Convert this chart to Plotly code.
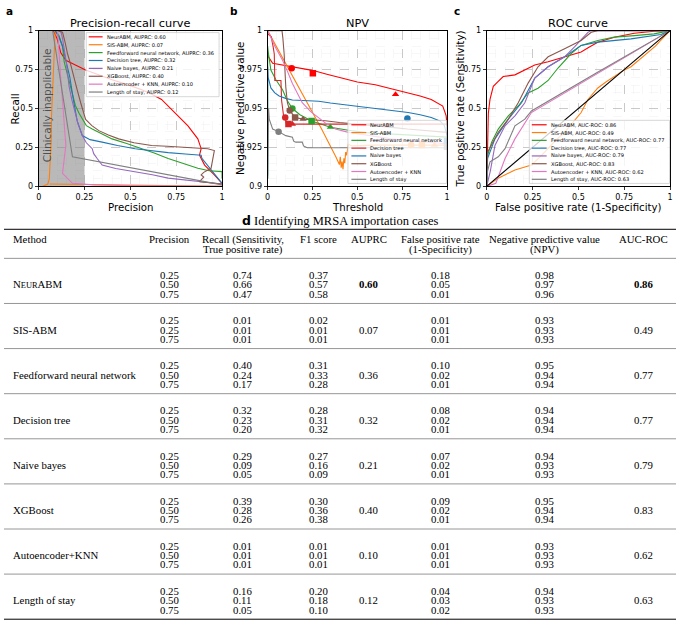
import plotly.graph_objects as go

W, H = 680, 639

# ---------------- data ----------------
models = ["NeurABM", "SIS-ABM", "Feedforward neural network", "Decision tree",
          "Naive bayes", "XGBoost", "Autoencoder + KNN", "Length of stay"]
auprc_vals = [0.60, 0.07, 0.36, 0.32, 0.21, 0.40, 0.10, 0.12]
aucroc_vals = [0.86, 0.49, 0.77, 0.77, 0.79, 0.83, 0.62, 0.63]

colors_ac = ["#ff0000", "#ff7f0e", "#2ca02c", "#1f77b4", "#9467bd", "#8c564b", "#e377c2", "#7f7f7f"]
colors_b = ["#ff0000", "#ff7f0e", "#2ca02c", "#d62728", "#1f77b4", "#8c564b", "#e377c2", "#7f7f7f"]

# Panel a: precision (x) / recall (y)
pr_prec_neurabm = [0.08, 0.10, 0.12, 0.148, 0.2, 0.256, 0.33, 0.40, 0.48, 0.562, 0.62, 0.67, 0.742, 0.78, 0.814, 0.868, 0.886, 0.877, 0.905, 0.958, 1.0]
pr_rec_neurabm = [1.0, 0.95, 0.86, 0.81, 0.78, 0.747, 0.715, 0.684, 0.655, 0.62, 0.59, 0.558, 0.474, 0.43, 0.389, 0.305, 0.242, 0.2, 0.137, 0.074, 0.02]
pr_prec_sis = [0.02, 0.05, 0.058, 0.063, 0.068, 0.07, 0.075, 0.08, 0.085, 0.09, None, 0.06, 0.3, 0.6, 0.85, 1.0]
pr_rec_sis = [0.0, 0.015, 0.05, 0.15, 0.3, 0.45, 0.6, 0.75, 0.88, 1.0, None, 0.015, 0.01, 0.006, 0.003, 0.0]
pr_prec_fnn = [0.09, 0.11, 0.13, 0.139, 0.15, 0.165, 0.184, 0.2, 0.22, 0.238, 0.26, 0.292, 0.34, 0.4, 0.48, 0.562, 0.63, 0.706, 0.78, 0.868, 0.93, 1.0, 1.0]
pr_rec_fnn = [1.0, 0.97, 0.9, 0.8, 0.75, 0.68, 0.579, 0.52, 0.47, 0.43, 0.39, 0.368, 0.34, 0.305, 0.275, 0.242, 0.215, 0.179, 0.15, 0.116, 0.1, 0.095, 0.05]
pr_prec_dt = [0.09, 0.11, 0.13, 0.15, 0.17, 0.19, 0.21, 0.238, 0.28, 0.346, 0.43, 0.526, 0.62, 0.706, 0.8, 0.886, 0.89, 1.0]
pr_rec_dt = [1.0, 0.96, 0.9, 0.8, 0.7, 0.55, 0.42, 0.326, 0.3, 0.284, 0.262, 0.242, 0.228, 0.217, 0.208, 0.2, 0.18, 0.02]
pr_prec_nb = [0.12, 0.13, 0.15, 0.166, 0.18, 0.193, 0.215, 0.238, 0.26, 0.292, 0.3, 0.319, 0.346, 0.42, 0.526, 0.62, 0.706, 0.85, 1.0]
pr_rec_nb = [1.0, 0.95, 0.8, 0.64, 0.56, 0.495, 0.4, 0.326, 0.28, 0.242, 0.21, 0.179, 0.137, 0.115, 0.095, 0.075, 0.053, 0.035, 0.015]
pr_prec_xgb = [0.10, 0.13, 0.145, 0.157, 0.175, 0.193, 0.21, 0.229, 0.256, 0.29, 0.328, 0.38, 0.436, 0.52, 0.616, 0.7, 0.796, 0.87, 0.922, 0.958, 0.95, 0.94, 0.9, 0.886, 0.9, 0.877, 1.0]
pr_rec_xgb = [1.0, 0.99, 0.92, 0.853, 0.78, 0.705, 0.62, 0.537, 0.43, 0.39, 0.358, 0.33, 0.305, 0.28, 0.263, 0.258, 0.253, 0.248, 0.242, 0.23, 0.17, 0.116, 0.09, 0.074, 0.06, 0.03, 0.015]
pr_prec_ae = [0.103, 0.11, 0.12, 0.13, 0.14, 0.148, 0.13, 0.16, 0.184, 0.3, 0.526, 1.0]
pr_rec_ae = [1.0, 0.9, 0.7, 0.55, 0.4, 0.263, 0.084, 0.05, 0.02, 0.01, 0.004, 0.0]
pr_prec_los = [0.076, 0.13, 0.184, 1.0]
pr_rec_los = [1.0, 0.6, 0.19, 0.01]

# Panel b: threshold (x) / NPV (y)
npv_thr_neurabm = [0.0, 0.005, 0.028, 0.08, 0.138, 0.2, 0.249, 0.33, 0.414, 0.5, 0.6, 0.7, 0.783, 0.85, 0.912, 0.95, 0.976, 0.99, 0.995, 1.0]
npv_val_neurabm = [0.986, 0.983, 0.979, 0.978, 0.977, 0.9755, 0.9745, 0.972, 0.9695, 0.967, 0.9653, 0.9625, 0.96, 0.958, 0.9558, 0.9535, 0.9516, 0.947, 0.9453, 0.939]
npv_thr_sis = [0.0, 0.1, 0.2, 0.3, 0.38, 0.40, 0.405, 0.41, 0.415, 0.42, 0.425, 0.43, 0.435, 0.44, 0.45, 0.47, 0.6, 0.8, 1.0]
npv_val_sis = [1.0, 0.979, 0.958, 0.937, 0.919, 0.914, 0.919, 0.912, 0.916, 0.911, 0.918, 0.915, 0.922, 0.92, 0.927, 0.926, 0.9265, 0.9265, 0.9265]
npv_thr_fnn = [0.0, 0.0, 0.005, 0.018, 0.046, 0.083, 0.11, 0.138, 0.18, 0.245, 0.35, 0.45, 0.55, 0.69, 0.78, 0.875, 0.95, 1.0]
npv_val_fnn = [0.905, 0.99, 0.985, 0.9747, 0.9684, 0.9621, 0.955, 0.950, 0.946, 0.942, 0.938, 0.936, 0.9345, 0.9335, 0.933, 0.9326, 0.932, 0.9316]
npv_thr_dt = [0.0, 0.02, 0.03, 0.037, 0.04, 0.074, 0.078, 0.09, 0.098, 0.105, 1.0]
npv_val_dt = [0.998, 0.996, 0.99, 0.985, 0.968, 0.968, 0.955, 0.9442, 0.9442, 0.940, 0.940]
npv_thr_nb = [0.0, 0.0, 0.003, 0.018, 0.04, 0.064, 0.1, 0.138, 0.2, 0.285, 0.35, 0.414, 0.5, 0.6, 0.7, 0.783, 0.85, 0.912, 0.96, 0.985, 1.0]
npv_val_nb = [0.907, 0.977, 0.97, 0.9632, 0.96, 0.958, 0.9565, 0.9555, 0.9553, 0.9547, 0.9535, 0.9526, 0.9513, 0.950, 0.9487, 0.9474, 0.946, 0.9442, 0.942, 0.939, 0.9326]
npv_thr_xgb = [0.0, 0.08, 0.085, 0.092, 0.101, 0.11, 0.123, 0.153, 0.197, 0.25, 0.322, 0.4, 0.506, 0.6, 0.69, 0.78, 0.875, 1.0]
npv_val_xgb = [1.0, 1.0, 0.995, 0.985, 0.964, 0.9537, 0.9488, 0.9442, 0.9432, 0.9428, 0.9421, 0.941, 0.940, 0.939, 0.9379, 0.9368, 0.9358, 0.9347]
npv_thr_ae = [0.0, 0.009, 0.04, 0.083, 0.11, 0.138, 0.165, 0.193, 0.24, 0.285, 0.33, 0.378, 0.44, 0.506, 0.6, 0.69, 0.78, 0.875, 1.0]
npv_val_ae = [1.0, 0.998, 0.99, 0.981, 0.974, 0.966, 0.96, 0.9537, 0.948, 0.944, 0.94, 0.9368, 0.935, 0.9337, 0.932, 0.9305, 0.9295, 0.9284, 0.9274]
npv_thr_los = [0.0, 0.005, 0.009, 0.028, 0.064, 0.101, 0.138, 0.145, 0.157, 0.193, 0.2, 0.221, 1.0]
npv_val_los = [0.905, 0.95, 0.9432, 0.9368, 0.935, 0.9326, 0.9316, 0.929, 0.9284, 0.9284, 0.926, 0.9248, 0.9248]

# operating-point markers on panel b (circle / square / triangle)
mk_thr_neurabm = [0.134, 0.252, 0.713]
mk_val_neurabm = [0.9758, 0.9726, 0.959]
mk_thr_sis = [0.80, 0.86, 0.93]
mk_val_sis = [0.9265, 0.9265, 0.9265]
mk_thr_fnn = [0.138, 0.245, 0.35]
mk_val_fnn = [0.950, 0.942, 0.938]
mk_thr_dt = [0.098, 0.116, 0.138]
mk_val_dt = [0.9442, 0.940, 0.940]
mk_thr_nb = [0.779, 1.0, 1.0]
mk_val_nb = [0.9436, 0.929, 0.929]
mk_thr_xgb = [0.123, 0.153, 0.197]
mk_val_xgb = [0.9488, 0.9442, 0.9432]
mk_thr_los = [0.061, 1.0, 1.0]
mk_val_los = [0.935, 0.9255, 0.9255]

# Panel c: ROC
roc_fpr_neurabm = [0.0, 0.003, 0.009, 0.018, 0.036, 0.063, 0.09, 0.154, 0.208, 0.262, 0.335, 0.425, 0.515, 0.56, 0.606, 0.696, 0.805, 0.913, 1.0]
roc_tpr_neurabm = [0.0, 0.25, 0.47, 0.558, 0.642, 0.674, 0.705, 0.716, 0.747, 0.779, 0.8, 0.832, 0.863, 0.895, 0.926, 0.958, 0.983, 0.996, 1.0]
roc_fpr_sis = [0.0, 0.063, 0.154, 0.244, 0.3, 0.335, 0.38, 0.425, 0.47, 0.515, 0.552, 0.58, 0.606, 0.65, 0.696, 0.74, 0.787, 0.83, 0.877, 0.92, 0.949, 1.0]
roc_tpr_sis = [0.0, 0.053, 0.105, 0.137, 0.2, 0.242, 0.3, 0.347, 0.41, 0.474, 0.558, 0.6, 0.632, 0.67, 0.705, 0.74, 0.768, 0.81, 0.853, 0.9, 0.937, 1.0]
roc_fpr_fnn = [0.0, 0.005, 0.027, 0.063, 0.118, 0.172, 0.226, 0.28, 0.335, 0.389, 0.461, 0.515, 0.606, 0.696, 0.805, 0.913, 1.0]
roc_tpr_fnn = [0.0, 0.2, 0.284, 0.368, 0.453, 0.516, 0.6, 0.63, 0.68, 0.76, 0.853, 0.905, 0.937, 0.958, 0.968, 0.979, 1.0]
roc_fpr_dt = [0.0, 0.005, 0.045, 0.118, 0.19, 0.262, 0.335, 0.425, 0.515, 0.606, 0.787, 0.95, 1.0]
roc_tpr_dt = [0.0, 0.18, 0.305, 0.432, 0.537, 0.695, 0.768, 0.832, 0.905, 0.926, 0.947, 0.975, 1.0]
roc_fpr_nb = [0.0, 0.02, 0.045, 0.1, 0.154, 0.208, 0.262, 0.335, 0.425, 0.479, 0.552, 0.57, 1.0]
roc_tpr_nb = [0.0, 0.1, 0.263, 0.389, 0.453, 0.537, 0.695, 0.768, 0.832, 0.895, 0.989, 1.0, 1.0]
roc_fpr_xgb = [0.0, 0.005, 0.063, 0.118, 0.172, 0.226, 0.28, 0.335, 0.425, 0.515, 0.57, 0.606, 1.0]
roc_tpr_xgb = [0.0, 0.22, 0.347, 0.432, 0.537, 0.663, 0.768, 0.832, 0.884, 0.937, 0.989, 1.0, 1.0]
roc_fpr_ae = [0.0, 0.05, 0.1, 0.154, 0.244, 0.515, 0.75, 1.0]
roc_tpr_ae = [0.0, 0.02, 0.179, 0.305, 0.474, 0.663, 0.826, 1.0]
roc_fpr_los = [0.0, 0.005, 0.018, 0.045, 0.063, 0.1, 0.154, 0.208, 0.244, 0.6, 1.0]
roc_tpr_los = [0.0, 0.1, 0.158, 0.179, 0.19, 0.242, 0.389, 0.432, 0.484, 0.73, 1.0]
chance_x = [0.0, 1.0]
chance_y = [0.0, 1.0]

# Table d
table_methods = ["NeurABM", "SIS-ABM", "Feedforward neural network", "Decision tree",
                 "Naive bayes", "XGBoost", "Autoencoder+KNN", "Length of stay"]
tbl_precision = [[0.25, 0.50, 0.75], [0.25, 0.25, 0.75], [0.25, 0.50, 0.75], [0.25, 0.50, 0.75],
                 [0.25, 0.50, 0.75], [0.25, 0.50, 0.75], [0.25, 0.50, 0.75], [0.25, 0.50, 0.75]]
tbl_recall = [[0.74, 0.66, 0.47], [0.01, 0.01, 0.01], [0.40, 0.24, 0.17], [0.32, 0.23, 0.20],
              [0.29, 0.09, 0.05], [0.39, 0.28, 0.26], [0.01, 0.01, 0.01], [0.16, 0.11, 0.05]]
tbl_f1 = [[0.37, 0.57, 0.58], [0.02, 0.01, 0.01], [0.31, 0.33, 0.28], [0.28, 0.31, 0.32],
          [0.27, 0.16, 0.09], [0.30, 0.36, 0.38], [0.01, 0.01, 0.01], [0.20, 0.18, 0.10]]
tbl_fpr = [[0.18, 0.05, 0.01], [0.01, 0.01, 0.01], [0.10, 0.02, 0.01], [0.08, 0.02, 0.01],
           [0.07, 0.02, 0.01], [0.09, 0.02, 0.01], [0.01, 0.01, 0.01], [0.04, 0.03, 0.02]]
tbl_npv = [[0.98, 0.97, 0.96], [0.93, 0.93, 0.93], [0.95, 0.94, 0.94], [0.94, 0.94, 0.94],
           [0.94, 0.93, 0.93], [0.95, 0.94, 0.94], [0.93, 0.93, 0.93], [0.94, 0.93, 0.93]]
tbl_auprc = [0.60, 0.07, 0.36, 0.32, 0.21, 0.40, 0.10, 0.12]
tbl_aucroc = [0.86, 0.49, 0.77, 0.77, 0.79, 0.83, 0.62, 0.63]
header_line1 = ["Precision", "Recall (Sensitivity,", "F1 score", "AUPRC", "False positive rate",
                "Negative predictive value", "AUC-ROC"]
header_line2 = ["", "True positive rate)", "", "", "(1-Specificity)", "(NPV)", ""]

# ---------------- helpers ----------------
def px(x):
    return x / W

def py(y):
    return 1 - y / H

SANS = "DejaVu Sans"
SERIF = "Liberation Serif"

fig = go.Figure()

pr_x = [pr_prec_neurabm, pr_prec_sis, pr_prec_fnn, pr_prec_dt, pr_prec_nb, pr_prec_xgb, pr_prec_ae, pr_prec_los]
pr_y = [pr_rec_neurabm, pr_rec_sis, pr_rec_fnn, pr_rec_dt, pr_rec_nb, pr_rec_xgb, pr_rec_ae, pr_rec_los]
for i in range(8):
    fig.add_trace(go.Scatter(x=pr_x[i], y=pr_y[i], mode="lines", line=dict(color=colors_ac[i], width=1.1),
                             xaxis="x", yaxis="y", name=models[i], connectgaps=False))

npv_x = [npv_thr_neurabm, npv_thr_sis, npv_thr_fnn, npv_thr_dt, npv_thr_nb, npv_thr_xgb, npv_thr_ae, npv_thr_los]
npv_y = [npv_val_neurabm, npv_val_sis, npv_val_fnn, npv_val_dt, npv_val_nb, npv_val_xgb, npv_val_ae, npv_val_los]
for i in range(8):
    fig.add_trace(go.Scatter(x=npv_x[i], y=npv_y[i], mode="lines", line=dict(color=colors_b[i], width=1.1),
                             xaxis="x2", yaxis="y2", name=models[i]))
mk_x = {0: mk_thr_neurabm, 1: mk_thr_sis, 2: mk_thr_fnn, 3: mk_thr_dt, 4: mk_thr_nb, 5: mk_thr_xgb, 7: mk_thr_los}
mk_y = {0: mk_val_neurabm, 1: mk_val_sis, 2: mk_val_fnn, 3: mk_val_dt, 4: mk_val_nb, 5: mk_val_xgb, 7: mk_val_los}
for i in mk_x:
    fig.add_trace(go.Scatter(x=mk_x[i], y=mk_y[i], mode="markers",
                             marker=dict(color=colors_b[i], size=6.5, symbol=["circle", "square", "triangle-up"]),
                             xaxis="x2", yaxis="y2", name=models[i]))

roc_x = [roc_fpr_neurabm, roc_fpr_sis, roc_fpr_fnn, roc_fpr_dt, roc_fpr_nb, roc_fpr_xgb, roc_fpr_ae, roc_fpr_los]
roc_y = [roc_tpr_neurabm, roc_tpr_sis, roc_tpr_fnn, roc_tpr_dt, roc_tpr_nb, roc_tpr_xgb, roc_tpr_ae, roc_tpr_los]
for i in range(8):
    fig.add_trace(go.Scatter(x=roc_x[i], y=roc_y[i], mode="lines", line=dict(color=colors_ac[i], width=1.1),
                             xaxis="x3", yaxis="y3", name=models[i]))
fig.add_trace(go.Scatter(x=chance_x, y=chance_y, mode="lines", line=dict(color="black", width=1.1),
                         xaxis="x3", yaxis="y3", name="chance"))

# ---------------- axes ----------------
panels = {
    "a": dict(x0=36, x1=221, y0=27, y1=185),
    "b": dict(x0=267, x1=448, y0=27, y1=185),
    "c": dict(x0=488, x1=673, y0=27, y1=185),
}

def xaxis_cfg(p, anchor):
    return dict(domain=[px(p["x0"]), px(p["x1"])], anchor=anchor, range=[0, 1],
                tickvals=[0, 0.25, 0.5, 0.75, 1], ticktext=["0", "0.25", "0.5", "0.75", "1"],
                showline=True, mirror=True, linecolor="black", linewidth=1,
                ticks="outside", ticklen=3, tickwidth=0.8, tickcolor="black",
                tickfont=dict(family=SANS, size=8, color="black"),
                showgrid=True, gridcolor="#b5b5b5", griddash="dash", gridwidth=0.7,
                minor=dict(dtick=0.05, showgrid=True, gridcolor="#efefef", gridwidth=0.5, ticks=""),
                zeroline=False, fixedrange=True)

def yaxis_cfg(p, anchor, rng, vals, texts, mdt):
    return dict(domain=[py(p["y1"]), py(p["y0"])], anchor=anchor, range=rng,
                tickvals=vals, ticktext=texts,
                showline=True, mirror=True, linecolor="black", linewidth=1,
                ticks="outside", ticklen=3, tickwidth=0.8, tickcolor="black",
                tickfont=dict(family=SANS, size=8, color="black"),
                showgrid=True, gridcolor="#b5b5b5", griddash="dash", gridwidth=0.7,
                minor=dict(dtick=mdt, showgrid=True, gridcolor="#efefef", gridwidth=0.5, ticks=""),
                zeroline=False, fixedrange=True)

std_vals = [0, 0.25, 0.5, 0.75, 1]
std_text = ["0", "0.25", "0.5", "0.75", "1"]
fig.update_layout(
    xaxis=xaxis_cfg(panels["a"], "y"),
    yaxis=yaxis_cfg(panels["a"], "x", [0, 1], std_vals, std_text, 0.05),
    xaxis2=xaxis_cfg(panels["b"], "y2"),
    yaxis2=yaxis_cfg(panels["b"], "x2", [0.9, 1.0], [0.9, 0.925, 0.95, 0.975, 1.0],
                     ["0.9", "0.925", "0.95", "0.975", "1"], 0.005),
    xaxis3=xaxis_cfg(panels["c"], "y3"),
    yaxis3=yaxis_cfg(panels["c"], "x3", [0, 1], std_vals, std_text, 0.05),
)

shapes = []
annotations = []

# clinically inapplicable zone
shapes.append(dict(type="rect", xref="x", yref="y", x0=0, x1=0.25, y0=0, y1=1,
                   fillcolor="rgba(128,128,128,0.55)", line=dict(width=0), layer="between"))
annotations.append(dict(x=0.05, y=0.52, xref="x", yref="y", text="Clinically inapplicable", textangle=-90,
                        showarrow=False, font=dict(family=SANS, size=10.5, color="rgba(60,60,60,0.85)")))

def ann(x, y, text, size, family=SANS, angle=0, xanchor="center", bold=False, color="black"):
    annotations.append(dict(x=px(x), y=py(y), xref="paper", yref="paper", text=("<b>%s</b>" % text) if bold else text,
                            showarrow=False, textangle=angle, xanchor=xanchor, yanchor="middle",
                            font=dict(family=family, size=size, color=color)))

ann(128.5, 20, "Precision-recall curve", 11.3)
ann(357.5, 20, "NPV", 11.3)
ann(580.5, 20, "ROC curve", 11.3)
ann(7, 7, "a", 10.5, bold=True)
ann(233, 7, "b", 10.5, bold=True)
ann(458, 7, "c", 10.5, bold=True)
ann(128.5, 206, "Precision", 10.2)
ann(357.5, 206, "Threshold", 10.2)
ann(580.5, 206, "False positive rate (1-Specificity)", 10.2)
ann(12, 106, "Recall", 10.4, angle=-90)
ann(238.5, 106, "Negative predictive value", 10.4, angle=-90)
ann(461, 106, "True positive rate (Sensitivity)", 10.4, angle=-90)

# manual legends
LF = 5.1
def legend(box, rows_y, lx0, lx1, tx, labels, cols):
    x0, y0, x1, y1 = box
    shapes.append(dict(type="rect", xref="paper", yref="paper", x0=px(x0), x1=px(x1), y0=py(y1), y1=py(y0),
                       fillcolor="rgba(255,255,255,0.8)", line=dict(color="rgba(200,200,200,0.9)", width=0.8)))
    for yy, lab, col in zip(rows_y, labels, cols):
        shapes.append(dict(type="line", xref="paper", yref="paper", x0=px(lx0), x1=px(lx1), y0=py(yy), y1=py(yy),
                           line=dict(color=col, width=1.2)))
        annotations.append(dict(x=px(tx), y=py(yy), xref="paper", yref="paper", text=lab, showarrow=False,
                                xanchor="left", yanchor="middle", font=dict(family=SANS, size=LF, color="black")))

rows_a = [33.3 + 8.0 * k for k in range(8)]
legend((84, 29, 218, 94), rows_a, 86.5, 100.5, 102.5,
       ["%s, AUPRC: %.2f" % (m, v) for m, v in zip(models, auprc_vals)], colors_ac)
rows_bc = [122.5 + 7.9 * k for k in range(8)]
legend((348, 118, 447.5, 182), rows_bc, 351.5, 366.5, 368.5, models, colors_b)
legend((531, 118, 672.5, 182), rows_bc, 533.5, 548.5, 550.5,
       ["%s, AUC-ROC: %.2f" % (m, v) for m, v in zip(models, aucroc_vals)], colors_ac)

# ---------------- table d ----------------
annotations.append(dict(x=px(341), y=py(219.5), xref="paper", yref="paper", showarrow=False,
                        text='<span style="font-family:DejaVu Sans"><b>d</b></span> Identifying MRSA importation cases',
                        xanchor="center", yanchor="middle", font=dict(family=SERIF, size=12.5, color="black")))
col_x = [168, 242, 318, 369, 441, 546, 646]
TF = 10.8
top_rule = 228.5
head_rule = 258.0
grp_h = 45.75
shapes.append(dict(type="line", xref="paper", yref="paper", x0=px(1), x1=px(679), y0=py(top_rule), y1=py(top_rule),
                   line=dict(color="black", width=1)))
shapes.append(dict(type="line", xref="paper", yref="paper", x0=px(1), x1=px(679), y0=py(head_rule), y1=py(head_rule),
                   line=dict(color="#8a8a8a", width=0.9)))
ann(8, 238.5, "Method", TF, family=SERIF, xanchor="left")
for cx, h1, h2 in zip(col_x, header_line1, header_line2):
    ann(cx, 238.5, h1, TF, family=SERIF)
    if h2:
        ann(cx, 249, h2, TF, family=SERIF)

for g in range(8):
    base = head_rule + grp_h * g
    ys = [base + 17.0, base + 26.5, base + 36.0]
    name = table_methods[g]
    if name == "NeurABM":
        name = 'N<span style="font-size:8.4px">EUR</span>ABM'
    ann(8, ys[1], name, TF, family=SERIF, xanchor="left")
    cols_vals = [tbl_precision[g], tbl_recall[g], tbl_f1[g], None, tbl_fpr[g], tbl_npv[g], None]
    for ci, vals in enumerate(cols_vals):
        if vals is None:
            continue
        for r in range(3):
            ann(col_x[ci], ys[r], "%.2f" % vals[r], TF, family=SERIF)
    ann(col_x[3], ys[1], "%.2f" % tbl_auprc[g], TF, family=SERIF, bold=(g == 0))
    ann(col_x[6], ys[1], "%.2f" % tbl_aucroc[g], TF, family=SERIF, bold=(g == 0))
    rule_y = base + grp_h
    last = (g == 7)
    shapes.append(dict(type="line", xref="paper", yref="paper", x0=px(1), x1=px(679), y0=py(rule_y), y1=py(rule_y),
                       line=dict(color="black" if last else "#8a8a8a", width=1 if last else 0.9)))

fig.update_layout(width=W, height=H, margin=dict(l=0, r=0, t=0, b=0), showlegend=False,
                  plot_bgcolor="white", paper_bgcolor="white", shapes=shapes, annotations=annotations)

fig.write_html("out.html", config={"displayModeBar": False, "staticPlot": True},
               post_script="document.body.style.margin='0px';document.body.style.overflow='hidden';")
